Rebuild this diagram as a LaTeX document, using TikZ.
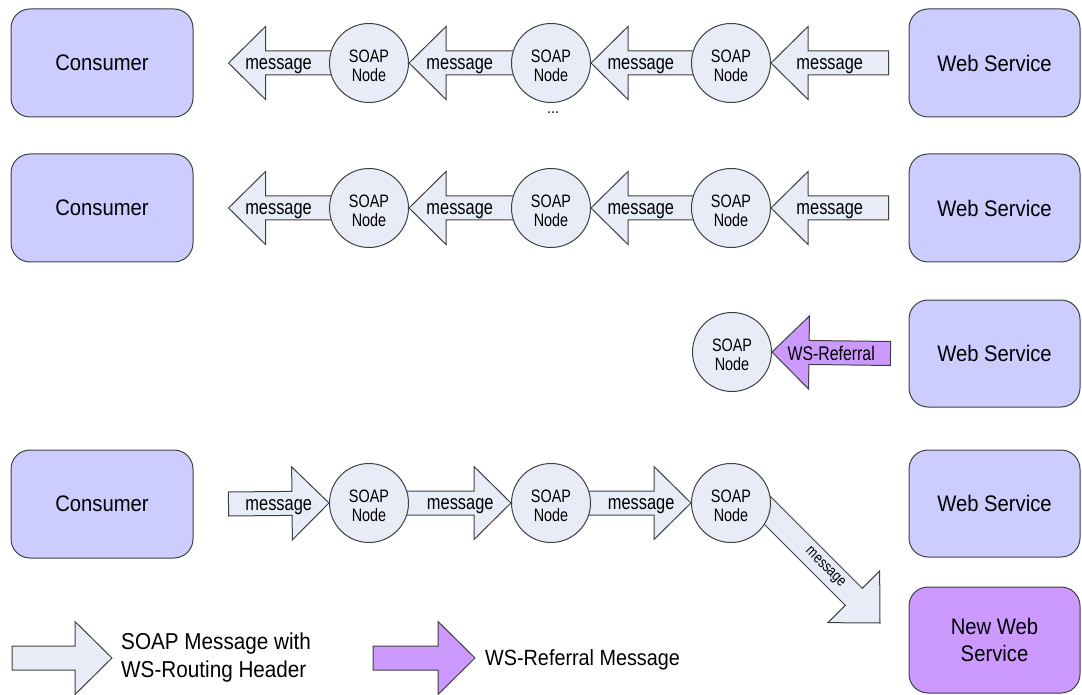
\documentclass[tikz,border=0pt]{standalone}
\usepackage{fontspec}
\setmainfont{Liberation Sans}[FakeStretch=0.9]
\newfontfamily\condfont{Liberation Sans}[FakeStretch=0.8]
\usetikzlibrary{calc}
\pgfdeclarelayer{bg}
\pgfsetlayers{bg,main}
\definecolor{boxfill}{HTML}{CCCCFF}
\definecolor{newfill}{HTML}{CC99FF}
\definecolor{msgfill}{HTML}{E7ECF6}
\definecolor{edgecol}{HTML}{404040}
% #1 style, #2 tail, #3 tip, #4 label pos, #5 label opts, #6 text, #7 name
\newcommand{\fatarrow}[7]{%
  \coordinate (#7hb) at ($(#3)!37pt!(#2)$);
  \draw[#1] ($(#2)!12pt!90:(#3)$) -- ($(#7hb)!12pt!90:(#3)$) -- ($(#7hb)!36.5pt!90:(#3)$)
    -- (#3) -- ($(#7hb)!36.5pt!-90:(#3)$) -- ($(#7hb)!12pt!-90:(#3)$)
    -- ($(#2)!12pt!-90:(#3)$) -- cycle;
  \node[#5] (#7) at ($(#2)!#4!(#3)$) {#6};
}
\newcommand{\soaptxt}{\begin{tabular}{@{}c@{}}\rule{0pt}{24pt}SOAP\\Node\end{tabular}}
\begin{document}
\begin{tikzpicture}[x=1pt,y=-1pt,
  box/.style={draw=edgecol, line width=1pt, fill=boxfill, rounded corners=19pt,
    minimum width=182pt, minimum height=108pt, inner sep=0pt, align=center,
    font=\fontsize{22.5}{27}\selectfont},
  wbox/.style={box, minimum width=171pt},
  soap/.style={circle, draw=edgecol, line width=1pt, fill=msgfill, minimum size=79pt,
    inner sep=0pt, font=\condfont\fontsize{18}{19}\selectfont},
  msg/.style={draw=edgecol, line width=1pt, fill=msgfill, line join=miter},
  refmsg/.style={msg, fill=newfill},
  hl/.style={inner sep=0pt, anchor=base, yshift=-6.5pt, font=\condfont\fontsize{20.5}{24}\selectfont},
  dl/.style={inner sep=0pt, rotate=-45, font=\condfont\fontsize{15.5}{18}\selectfont},
  legtext/.style={anchor=west, inner sep=0pt, align=left, font=\fontsize{23}{28}\selectfont}]
\useasboundingbox (0,0) rectangle (1082,695);

% boxes
\node[box] (c1) at (102,63) {Consumer};
\node[box] (c2) at (102,208) {Consumer};
\node[box] (c4) at (102,504) {Consumer};
\node[wbox] (w1) at (994.5,63) {Web Service};
\node[wbox] (w2) at (994.5,208) {Web Service};
\node[wbox, minimum height=107pt] (w3) at (994.5,353.5) {Web Service};
\node[wbox, minimum height=107pt] (w4) at (994.5,503.5) {Web Service};
\node[wbox, minimum height=106pt, fill=newfill] (nw) at (994.5,640) {New Web\\Service};

% SOAP nodes
\node[soap] (s11) at (369,63) {\soaptxt};
\node[soap] (s12) at (551,63) {\soaptxt};
\node[soap] (s13) at (731,63) {\soaptxt};
\node[soap] (s21) at (369,208) {\soaptxt};
\node[soap] (s22) at (551,208) {\soaptxt};
\node[soap] (s23) at (731,208) {\soaptxt};
\node[soap] (s3) at (732,352) {\soaptxt};
\node[soap] (s41) at (369,503) {\soaptxt};
\node[soap] (s42) at (551,503) {\soaptxt};
\node[soap] (s43) at (731,503) {\soaptxt};
\node[inner sep=0pt, font=\fontsize{16}{19}\selectfont] (dots) at (553,113) {...};

\begin{pgfonlayer}{bg}
% row 1
\coordinate (t11) at ($(s11.west)+(6,0)$);
\coordinate (h11) at ($(c1.east)+(35,0)$);
\fatarrow{msg}{t11}{h11}{0.53}{hl}{message}{m11}
\coordinate (t12) at ($(s12.west)+(6,0)$);
\fatarrow{msg}{t12}{s11.east}{0.53}{hl}{message}{m12}
\coordinate (t13) at ($(s13.west)+(6,0)$);
\fatarrow{msg}{t13}{s12.east}{0.53}{hl}{message}{m13}
\coordinate (t14) at ($(w1.west)+(-20,0)$);
\fatarrow{msg}{t14}{s13.east}{0.5}{hl}{message}{m14}
% row 2
\coordinate (t21) at ($(s21.west)+(6,0)$);
\coordinate (h21) at ($(c2.east)+(35,0)$);
\fatarrow{msg}{t21}{h21}{0.53}{hl}{message}{m21}
\coordinate (t22) at ($(s22.west)+(6,0)$);
\fatarrow{msg}{t22}{s21.east}{0.53}{hl}{message}{m22}
\coordinate (t23) at ($(s23.west)+(6,0)$);
\fatarrow{msg}{t23}{s22.east}{0.53}{hl}{message}{m23}
\coordinate (t24) at ($(w2.west)+(-20,0)$);
\fatarrow{msg}{t24}{s23.east}{0.5}{hl}{message}{m24}
% row 3
\coordinate (t3) at ($(w3.west)+(-18,0)$);
\fatarrow{refmsg}{t3}{s3.east}{0.5}{hl, yshift=-1pt, font=\condfont\fontsize{19.8}{24}\selectfont}{WS-Referral}{r3}
% row 4
\coordinate (t41) at ($(c4.east)+(35,0)$);
\fatarrow{msg}{t41}{s41.west}{0.5}{hl}{message}{m41}
\coordinate (t42) at ($(s41.east)+(-6,0)$);
\fatarrow{msg}{t42}{s42.west}{0.53}{hl}{message}{m42}
\coordinate (t43) at ($(s42.east)+(-6,0)$);
\fatarrow{msg}{t43}{s43.west}{0.53}{hl}{message}{m43}
\coordinate (t44) at ($(s43.center)+(25.3,-3.7)$);
\coordinate (h44) at (880,623);
\fatarrow{msg}{t44}{h44}{0.554}{dl}{message}{m44}
% legend
\coordinate (lt1) at (12,658);
\coordinate (lh1) at (112,658);
\fatarrow{msg}{lt1}{lh1}{0.5}{hl}{}{lg1}
\coordinate (lt2) at (373,658);
\coordinate (lh2) at (475,658);
\fatarrow{refmsg}{lt2}{lh2}{0.5}{hl}{}{lg2}
\end{pgfonlayer}

\node[legtext] (leg1) at (121,658) {SOAP Message with\\WS-Routing Header};
\node[legtext, font=\fontsize{22}{28}\selectfont] (leg2) at (485,660) {WS-Referral Message};
\end{tikzpicture}
\end{document}
